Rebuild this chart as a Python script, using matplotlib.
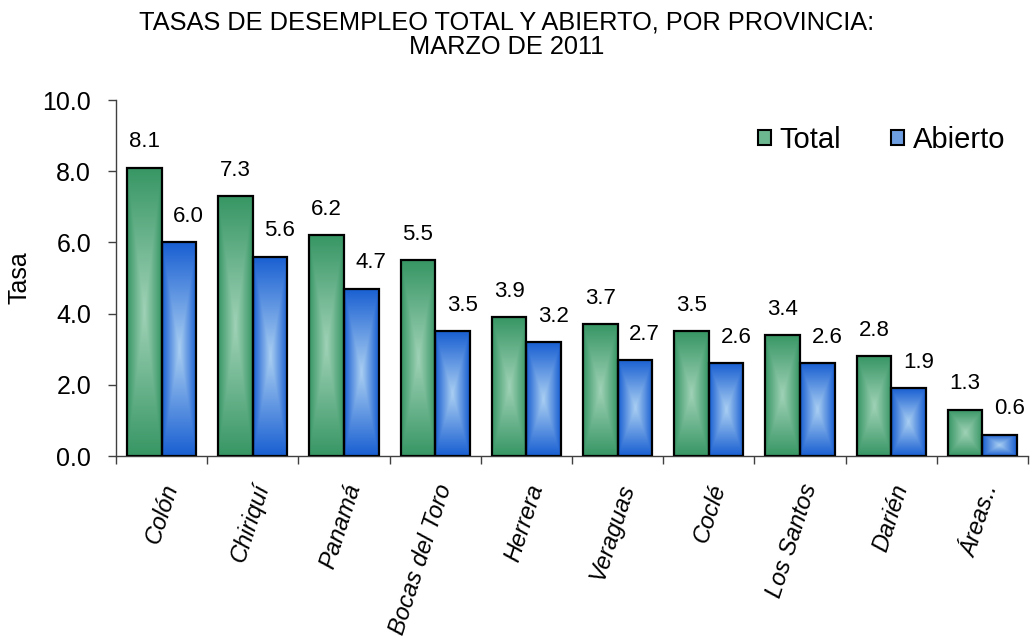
import numpy as np
import matplotlib
matplotlib.use("Agg")
import matplotlib.pyplot as plt
import matplotlib.transforms as mtransforms
from matplotlib.patches import Patch

plt.rcParams['font.family'] = ['Liberation Sans', 'DejaVu Sans']

provincias = ['Colón', 'Chiriquí', 'Panamá', 'Bocas del Toro', 'Herrera',
              'Veraguas', 'Coclé', 'Los Santos', 'Darién', 'Áreas..']
total = [8.1, 7.3, 6.2, 5.5, 3.9, 3.7, 3.5, 3.4, 2.8, 1.3]
abierto = [6.0, 5.6, 4.7, 3.5, 3.2, 2.7, 2.6, 2.6, 1.9, 0.6]
y_ticks = [0, 2, 4, 6, 8, 10]

verde_borde, verde_centro = np.array([55, 150, 100]) / 255, np.array([160, 210, 183]) / 255
azul_borde, azul_centro = np.array([25, 95, 210]) / 255, np.array([170, 207, 242]) / 255


def rellenar_gradiente(ax, barras, borde, centro):
    # gradiente rectangular desde el centro, como en Excel
    for b in barras:
        x0, y0 = b.get_x(), b.get_y()
        w, h = b.get_width(), b.get_height()
        u = np.linspace(-1, 1, 60)
        v = np.linspace(-1, 1, 200)
        U, V = np.meshgrid(u, v)
        t = np.maximum(np.abs(U), np.abs(V))[..., None]
        img = centro + (borde - centro) * t
        im = ax.imshow(img, extent=[x0, x0 + w, y0, y0 + h], aspect='auto',
                       origin='lower', zorder=2.5, interpolation='bilinear')
        im.set_clip_path(b)
        b.set_facecolor('none')


fig = plt.figure(figsize=(10.34, 6.44), dpi=100)
ax = fig.add_axes([116 / 1034, 1 - 456 / 644, (1028 - 116) / 1034, (456 - 100) / 644])

x = np.arange(len(provincias))
ancho = 0.38
b1 = ax.bar(x - ancho / 2, total, ancho, edgecolor='black', linewidth=1.6, zorder=3)
b2 = ax.bar(x + ancho / 2, abierto, ancho, edgecolor='black', linewidth=1.6, zorder=3)
rellenar_gradiente(ax, b1, verde_borde, verde_centro)
rellenar_gradiente(ax, b2, azul_borde, azul_centro)

for i in range(len(x)):
    ax.annotate(f'{total[i]:.1f}', (x[i] - ancho / 2, total[i]), xytext=(0, 11),
                textcoords='offset points', ha='center', va='bottom', fontsize=16)
    ax.annotate(f'{abierto[i]:.1f}', (x[i] + ancho / 2, abierto[i]), xytext=(7, 11),
                textcoords='offset points', ha='center', va='bottom', fontsize=16)

ax.set_xlim(-0.5, len(x) - 0.5)
ax.set_ylim(0, 10)
ax.set_yticks(y_ticks)
ax.set_yticklabels([f'{v:.1f}' for v in y_ticks], fontsize=18)
ax.tick_params(axis='y', direction='out', length=6, width=1, pad=12, color='#404040')

ax.set_xticks(np.arange(-0.5, len(x), 1))
ax.set_xticklabels([])
ax.tick_params(axis='x', which='major', direction='out', length=6, width=1, color='#404040')
ax.set_xticks(x, minor=True)
ax.set_xticklabels(provincias, minor=True, rotation=72, ha='right', va='top',
                   rotation_mode='anchor', fontsize=17, style='italic')
ax.tick_params(axis='x', which='minor', length=0, pad=18)
offset = mtransforms.ScaledTranslation(-1 / 100, 0, fig.dpi_scale_trans)
for lbl in ax.get_xticklabels(minor=True):
    lbl.set_transform(lbl.get_transform() + offset)

for s in ['top', 'right']:
    ax.spines[s].set_visible(False)
for s in ['left', 'bottom']:
    ax.spines[s].set_color('#404040')
    ax.spines[s].set_linewidth(1)

ax.set_ylabel('Tasa', fontsize=18, labelpad=8)

handles = [Patch(facecolor='#6cb690', edgecolor='black', linewidth=1.5),
           Patch(facecolor='#6f9fe3', edgecolor='black', linewidth=1.5)]
fig.legend(handles, ['Total', 'Abierto'], loc='center left', bbox_to_anchor=(746 / 1034, 1 - 140 / 644),
           ncol=2, frameon=False, fontsize=21, handlelength=0.45, handleheight=0.45,
           handletextpad=0.3, columnspacing=1.7, borderaxespad=0)

fig.text(507 / 1034, 1 - 35 / 644, 'TASAS DE DESEMPLEO TOTAL Y ABIERTO, POR PROVINCIA:\nMARZO DE 2011',
         ha='center', va='center', fontsize=18.3, linespacing=1.05)

fig.savefig('out.png', dpi=100)
